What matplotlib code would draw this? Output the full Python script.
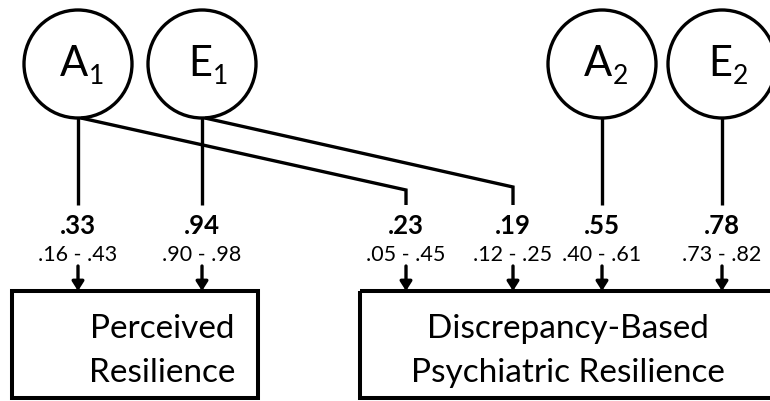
import matplotlib
matplotlib.use("Agg")
import matplotlib.pyplot as plt
from matplotlib.patches import Circle, Rectangle

plt.rcParams['font.family'] = ['Lato', 'DejaVu Sans']

# latent factors (letter, subscript)
factors = ["A", "E", "A", "E"]
factor_subs = ["1", "1", "2", "2"]

# path estimates and 95% CIs, in the order they hit the boxes
estimates = [".33", ".94", ".23", ".19", ".55", ".78"]
ci_low = [".16", ".90", ".05", ".12", ".40", ".73"]
ci_high = [".43", ".98", ".45", ".25", ".61", ".82"]

outcomes = ["Perceived\nResilience", "Discrepancy-Based\nPsychiatric Resilience"]

# layout (pixel coords of the 770x401 canvas)
circ_x = [78, 202, 602, 722]
circ_y = 64
circ_r = 54
path_x = [78, 202, 406, 513, 602, 722]
path_from = [0, 1, 0, 1, 2, 3]        # which factor each path starts at
box_left = [12, 360]
box_right = [258, 790]
text_x = [162, 568]

fig = plt.figure(figsize=(7.7, 4.01), dpi=100)
ax = fig.add_axes([0, 0, 1, 1])
ax.set_xlim(0, 770)
ax.set_ylim(401, 0)
ax.axis("off")

lw = 2.4
for cx, f, s in zip(circ_x, factors, factor_subs):
    ax.add_patch(Circle((cx, circ_y), circ_r, fill=False, lw=lw, ec="black"))
    ax.text(cx + 10, circ_y, f, fontsize=30, ha="right", va="center")
    ax.text(cx + 11, circ_y + 13, s, fontsize=19, ha="left", va="center")

bottom = circ_y + circ_r
for i, (px, src) in enumerate(zip(path_x, path_from)):
    cx = circ_x[src]
    if abs(px - cx) < 2:
        ax.plot([px, px], [bottom, 205], color="black", lw=lw, solid_capstyle="butt")
    else:
        corner_y = 190 if src == 0 else 187
        ax.plot([cx + 3, px, px], [bottom, corner_y, 205], color="black", lw=lw,
                solid_capstyle="butt", solid_joinstyle="miter")
    ax.text(px, 226, estimates[i], fontsize=18.5, fontweight="bold", ha="center", va="center")
    ax.text(px, 255, ci_low[i] + " - " + ci_high[i], fontsize=15.5, ha="center", va="center")
    ax.annotate("", xy=(px, 291), xytext=(px, 266),
                arrowprops=dict(arrowstyle="-|>,head_length=0.55,head_width=0.35",
                                color="black", lw=lw, shrinkA=0, shrinkB=0))

for bl, br, tx, lab in zip(box_left, box_right, text_x, outcomes):
    ax.add_patch(Rectangle((bl, 291), br - bl, 107, fill=False, lw=2.9, ec="black"))
    ax.text(tx, 351, lab, fontsize=24, ha="center", va="center", linespacing=1.55)

fig.savefig("out.png", dpi=100)
